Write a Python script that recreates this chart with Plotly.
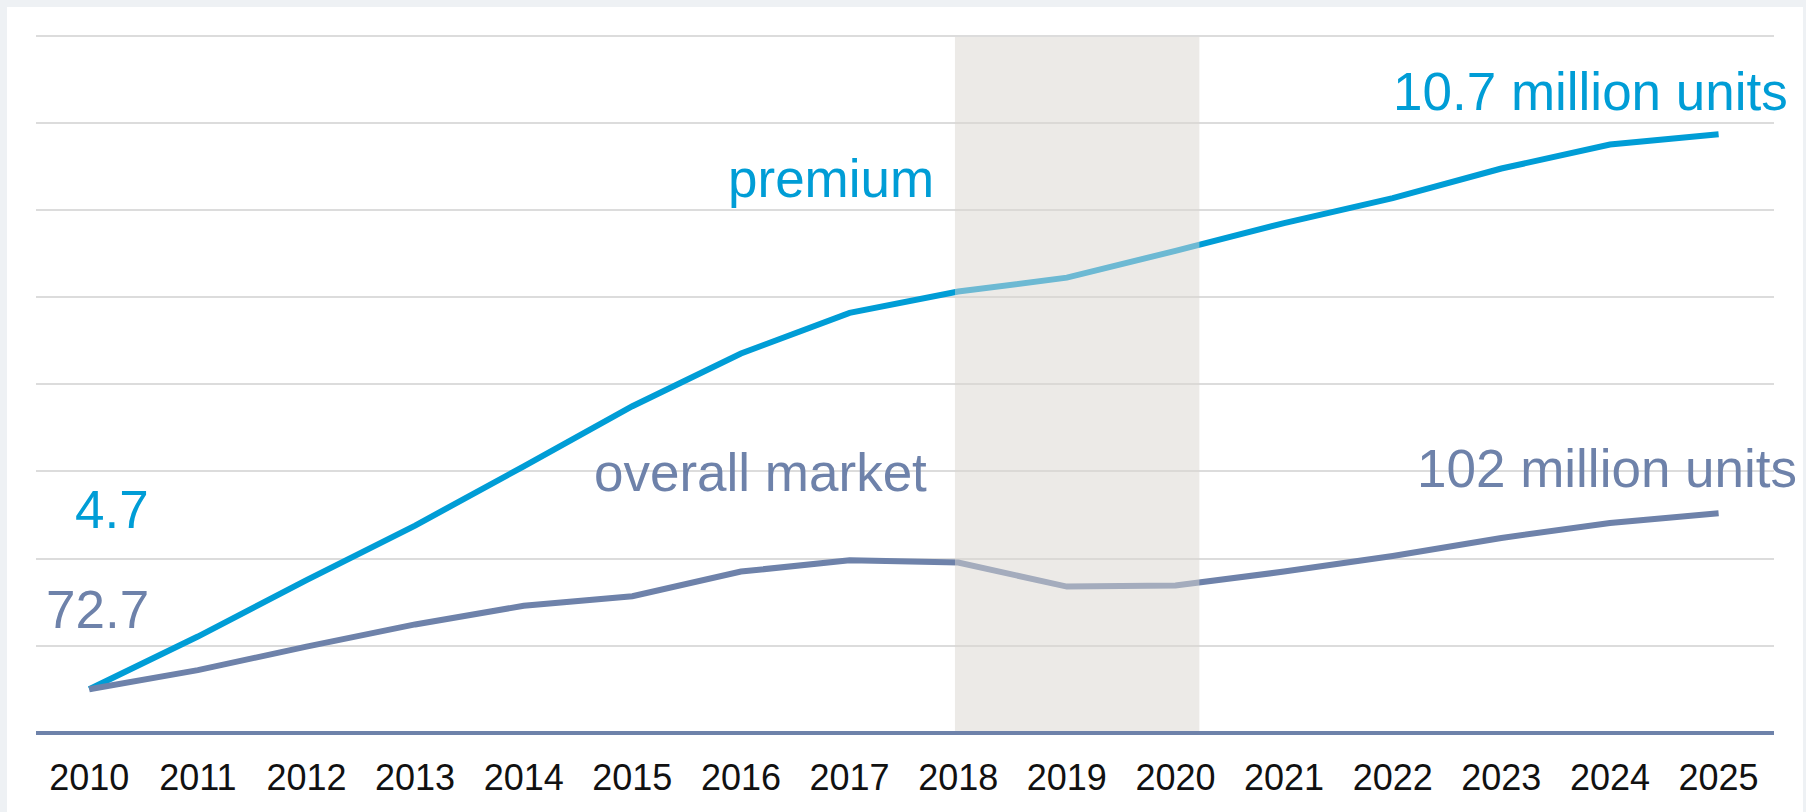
import plotly.graph_objects as go

years = list(range(2010, 2026))
year_labels = [str(y) for y in years]
premium = [4.7, 5.27, 5.88, 6.47, 7.11, 7.76, 8.33, 8.77, 9.0, 9.15, 9.44, 9.74, 10.01, 10.33, 10.59, 10.7]
overall = [72.7, 75.9, 79.8, 83.5, 86.6, 88.2, 92.3, 94.2, 93.8, 89.8, 90.0, 92.3, 94.9, 97.9, 100.4, 102.0]
shade_span = [2017.97, 2020.22]

BLUE = "#009DD6"
SLATE = "#6E82AA"
FONT = "Liberation Sans, Arial, sans-serif"
OUTER = "#EEF1F4"

W, H = 1806, 812
L, R, T, B = 36, 32, 32, 81
PW = W - L - R
PH = H - T - B


def px(xp):
    return (xp - L) / PW


def py(yp):
    return (H - B - yp) / PH


fig = go.Figure()
fig.add_trace(go.Scatter(x=years, y=premium, yaxis="y", mode="lines",
                         line=dict(color=BLUE, width=6), name="premium",
                         hoverinfo="skip"))
fig.add_trace(go.Scatter(x=years, y=overall, yaxis="y2", mode="lines",
                         line=dict(color=SLATE, width=6), name="overall market",
                         hoverinfo="skip"))

shapes = [
    # outer page frame strips (left, top, right)
    dict(type="rect", xref="paper", yref="paper", x0=px(0), x1=px(7),
         y0=py(812), y1=py(0), fillcolor=OUTER, line=dict(width=0), layer="below"),
    dict(type="rect", xref="paper", yref="paper", x0=px(0), x1=px(1806),
         y0=py(7), y1=py(0), fillcolor=OUTER, line=dict(width=0), layer="below"),
    dict(type="rect", xref="paper", yref="paper", x0=px(1803), x1=px(1806),
         y0=py(812), y1=py(0), fillcolor=OUTER, line=dict(width=0), layer="below"),
    # shaded period (translucent, drawn above lines so they appear faded)
    dict(type="rect", xref="x", yref="paper", x0=shade_span[0], x1=shade_span[1],
         y0=0, y1=py(37), fillcolor="rgba(217,213,207,0.5)", line=dict(width=0), layer="above"),
]

def ann(text, xr, yb, color, size=53):
    return dict(text=text, xref="paper", yref="paper", x=px(xr), y=py(yb - 0.3465 * size),
                xanchor="right", yanchor="middle", showarrow=False, borderpad=0,
                font=dict(family=FONT, size=size, color=color))

annotations = [
    ann("premium", 935, 196.7, BLUE),
    ann("overall market", 928, 491, SLATE),
    ann("4.7", 150, 527.7, BLUE),
    ann("72.7", 150, 627.7, SLATE),
    ann("10.7 million units", 1789, 110, BLUE),
    ann("102 million units", 1798, 486.7, SLATE),
]

fig.update_layout(
    width=W, height=H,
    margin=dict(l=L, r=R, t=T, b=B, pad=0),
    paper_bgcolor="white",
    plot_bgcolor="rgba(0,0,0,0)",
    showlegend=False,
    shapes=shapes,
    annotations=annotations,
    xaxis=dict(range=[2009.51, 2025.51], tickvals=years, ticktext=year_labels,
               showgrid=False, zeroline=False, showline=True, linecolor=SLATE,
               linewidth=4, ticks="", ticklabelstandoff=12,
               tickfont=dict(family=FONT, size=36, color="#111111"),
               fixedrange=True),
    # premium axis (hidden labels) also carries the light horizontal grid
    yaxis=dict(range=[4.249, 11.806], tickmode="linear", tick0=4.2308, dtick=0.94152,
               showgrid=True, gridcolor="#DCDCDC", gridwidth=1.5, showticklabels=False,
               zeroline=False, showline=False, ticks="", fixedrange=True),
    yaxis2=dict(range=[65.76, 182.12], overlaying="y", visible=False, fixedrange=True),
)

fig.write_html("out.html", config={"displayModeBar": False})
